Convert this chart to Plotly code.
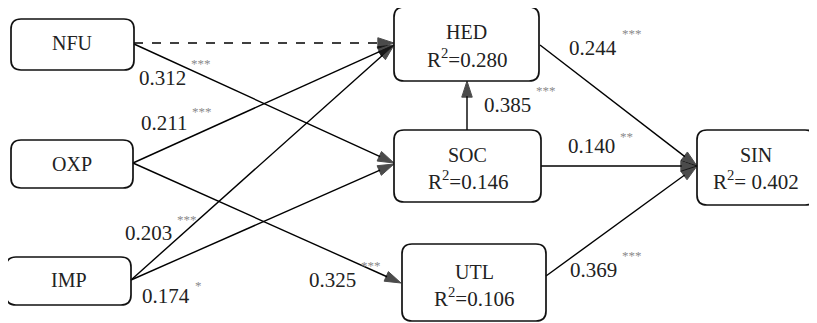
import plotly.graph_objects as go

# ---- data ----
nodes = ["NFU", "OXP", "IMP", "HED", "SOC", "UTL", "SIN"]
r_squared = [None, None, None, "0.280", "0.146", "0.106", " 0.402"]

path_from = ["NFU", "NFU", "OXP", "OXP", "IMP", "IMP", "SOC", "HED", "SOC", "UTL"]
path_to = ["HED", "SOC", "HED", "UTL", "HED", "SOC", "HED", "SIN", "SIN", "SIN"]
path_coef = [None, "0.312", "0.211", "0.325", "0.203", "0.174", "0.385", "0.244", "0.140", "0.369"]
path_sig = [None, "***", "***", "***", "***", "*", "***", "***", "**", "***"]
path_dashed = [True, False, False, False, False, False, False, False, False, False]

# ---- layout (pixel positions in the page) ----
W, H = 817, 323
OFF = 8  # page body margin
box_pos = {  # x0, x1, y0, y1
    "NFU": (11, 134, 19, 70),
    "OXP": (11, 133, 140, 188),
    "IMP": (6, 131, 257, 305),
    "HED": (394, 539, 7, 81),
    "SOC": (394, 541, 130, 202),
    "UTL": (402, 546, 244, 321),
    "SIN": (697, 815, 130, 205),
}
name_y = {"NFU": 43, "OXP": 164, "IMP": 280, "HED": 32, "SOC": 155, "UTL": 272, "SIN": 155}
r2_y = {"HED": 58, "SOC": 180, "UTL": 297, "SIN": 180}
path_ends = [  # tail (x,y), head (x,y)
    ((134, 43), (394, 43)),
    ((134, 44), (394, 163)),
    ((133, 163), (394, 45)),
    ((133, 163), (401, 283)),
    ((131, 280), (394, 45)),
    ((131, 280), (394, 164)),
    ((467, 130), (467, 81)),
    ((540, 45), (697, 166)),
    ((541, 166), (697, 166)),
    ((546, 276), (697, 166)),
]
label_pos = [  # number right edge x, number center y, stars center y
    None,
    (188, 78, 63),
    (189, 123, 111),
    (358, 280, 265),
    (174, 233, 219),
    (192, 296, 285),
    (533, 105, 90),
    (619, 48, 33),
    (617, 146, 136),
    (619, 270, 255),
]

FONT = "Liberation Serif, Times New Roman, Times, serif"
fig = go.Figure()
shapes = []
annotations = []

def rounded(x0, x1, y0, y1, r=10):
    return (f"M {x0+r},{y0} L {x1-r},{y0} Q {x1},{y0} {x1},{y0+r} "
            f"L {x1},{y1-r} Q {x1},{y1} {x1-r},{y1} L {x0+r},{y1} "
            f"Q {x0},{y1} {x0},{y1-r} L {x0},{y0+r} Q {x0},{y0} {x0+r},{y0} Z")

for n, r2 in zip(nodes, r_squared):
    x0, x1, y0, y1 = box_pos[n]
    shapes.append(dict(type="path", path=rounded(x0, x1, y0, y1), xref="x", yref="y",
                       line=dict(color="#111", width=1.7), fillcolor="rgba(0,0,0,0)", layer="above"))
    cx = (x0 + x1) / 2
    annotations.append(dict(x=cx, y=name_y[n], text=n, showarrow=False, xref="x", yref="y",
                            font=dict(family=FONT, size=20, color="#222"), xanchor="center", yanchor="middle"))
    if r2 is not None:
        annotations.append(dict(x=cx, y=r2_y[n], text=f"R<sup>2</sup>={r2}", showarrow=False,
                                xref="x", yref="y", font=dict(family=FONT, size=21, color="#222"),
                                xanchor="center", yanchor="middle"))

for (tail, head), dashed in zip(path_ends, path_dashed):
    fig.add_trace(go.Scatter(
        x=[tail[0], head[0]], y=[tail[1], head[1]], mode="lines+markers",
        line=dict(color="black", width=1.4, dash="dash" if dashed else "solid"),
        marker=dict(symbol="arrow", size=[0, 17], angleref="previous", color="black",
                    line=dict(width=1, color="black")),
        hoverinfo="skip", showlegend=False,
    ))

for coef, sig, lp in zip(path_coef, path_sig, label_pos):
    if coef is None:
        continue
    xr, cy, sy = lp
    annotations.append(dict(x=xr, y=cy, text=coef, showarrow=False, xref="x", yref="y",
                            xanchor="right", yanchor="middle",
                            font=dict(family=FONT, size=21, color="#222")))
    annotations.append(dict(x=xr + 1, y=sy, text=sig, showarrow=False, xref="x", yref="y",
                            xanchor="left", yanchor="middle",
                            font=dict(family=FONT, size=13, color="#8a8a8a")))

fig.update_layout(
    width=W - OFF, height=H - OFF, margin=dict(l=0, r=0, t=0, b=0),
    plot_bgcolor="white", paper_bgcolor="white",
    xaxis=dict(range=[OFF, W], visible=False, fixedrange=True),
    yaxis=dict(range=[H, OFF], visible=False, fixedrange=True),
    shapes=shapes, annotations=annotations, showlegend=False,
)
fig.write_html("out.html")
